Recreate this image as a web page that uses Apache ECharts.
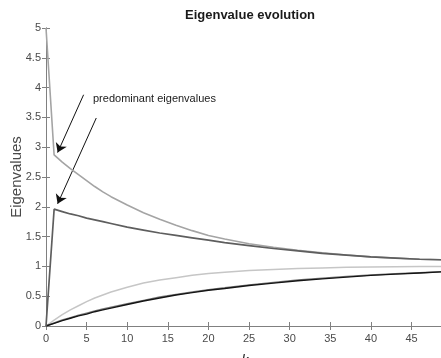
<!DOCTYPE html>
<html>
<head>
<meta charset="utf-8">
<script src="https://cdn.jsdelivr.net/npm/echarts@6/dist/echarts.min.js"></script>
<style>
  html, body { margin: 0; padding: 0; background: #fff; }
  #chart { width: 441px; height: 358px; }
</style>
</head>
<body>
<div id="chart"></div>
<script>
// iteration index k (sampled where the curves were read)
const kValues = [0, 1, 2, 3, 4, 5, 6, 7, 8, 10, 12, 14, 16, 18, 20, 22, 25, 28, 31, 34, 37, 40, 43, 46, 49];

// the two predominant eigenvalues
const eigUpper = [5, 2.87, 2.75, 2.64, 2.54, 2.44, 2.34, 2.25, 2.17, 2.03, 1.90, 1.79, 1.69, 1.60, 1.52, 1.46, 1.38, 1.32, 1.27, 1.23, 1.19, 1.16, 1.14, 1.12, 1.11];
const eigSecond = [0, 1.96, 1.92, 1.88, 1.85, 1.81, 1.78, 1.75, 1.72, 1.66, 1.61, 1.56, 1.52, 1.48, 1.44, 1.40, 1.35, 1.30, 1.26, 1.22, 1.19, 1.16, 1.14, 1.12, 1.11];

// the growing eigenvalues
const eigLight = [0, 0.10, 0.19, 0.27, 0.34, 0.41, 0.47, 0.52, 0.57, 0.65, 0.72, 0.77, 0.81, 0.85, 0.88, 0.90, 0.93, 0.95, 0.965, 0.975, 0.985, 0.99, 0.995, 1.0, 1.0];
const eigGray = [0, 0.05, 0.10, 0.14, 0.18, 0.215, 0.25, 0.285, 0.315, 0.375, 0.43, 0.485, 0.53, 0.57, 0.61, 0.64, 0.69, 0.73, 0.77, 0.80, 0.83, 0.855, 0.875, 0.895, 0.91];
const eigBlack = [0, 0.045, 0.09, 0.13, 0.17, 0.20, 0.24, 0.27, 0.30, 0.36, 0.42, 0.47, 0.52, 0.56, 0.60, 0.63, 0.68, 0.72, 0.76, 0.79, 0.82, 0.85, 0.87, 0.89, 0.91];

const yTicks = ['0', '0.5', '1', '1.5', '2', '2.5', '3', '3.5', '4', '4.5', '5'];

// arrows pointing at the predominant eigenvalues: [from, to] in data units
const arrowLines = [
  [[4.63, 3.88], [1.43, 2.91]],
  [[6.19, 3.49], [1.43, 2.05]]
];

const pairs = (ys) => kValues.map((k, i) => [k, ys[i]]);

const chart = echarts.init(document.getElementById('chart'), null, { renderer: 'canvas' });

const axisGray = '#808080';
const labelColor = '#4a4a4a';
const font = 'Liberation Sans, Arial, sans-serif';

const lineSeries = (name, ys, color, width, z) => ({
  name: name,
  type: 'line',
  data: pairs(ys),
  showSymbol: false,
  symbol: 'none',
  z: z,
  lineStyle: { color: color, width: width },
  animation: false
});

const option = {
  backgroundColor: '#fff',
  animation: false,
  title: {
    text: 'Eigenvalue evolution',
    left: 245,
    top: 4,
    textAlign: 'center',
    textStyle: { fontFamily: font, fontSize: 13, fontWeight: 'bold', color: '#1a1a1a' }
  },
  grid: { left: 46, right: -3, top: 28, bottom: 32, containLabel: false, outerBoundsMode: 'none' },
  xAxis: [
    {
      type: 'value', min: 0, max: 49, interval: 5,
      name: 'k', nameLocation: 'middle', nameGap: 28, nameMoveOverlap: false,
      nameTextStyle: { fontFamily: font, fontSize: 14, fontStyle: 'italic', color: '#1a1a1a' },
      axisLine: { show: true, lineStyle: { color: axisGray, width: 1 } },
      axisTick: { show: true, inside: true, length: 4, lineStyle: { color: axisGray } },
      axisLabel: { fontFamily: font, fontSize: 11, color: labelColor, margin: 7, showMaxLabel: false },
      splitLine: { show: false }
    },
    {
      type: 'value', min: 0, max: 49, interval: 5, position: 'top',
      axisLine: { show: true, lineStyle: { color: axisGray, width: 1 } },
      axisTick: { show: true, inside: true, length: 4, lineStyle: { color: axisGray } },
      axisLabel: { show: false },
      splitLine: { show: false }
    }
  ],
  yAxis: [
    {
      type: 'value', min: 0, max: 5, interval: 0.5,
      name: 'Eigenvalues', nameLocation: 'middle', nameGap: 22, nameRotate: 90, nameMoveOverlap: false,
      nameTextStyle: { fontFamily: font, fontSize: 15, color: '#4a4a4a' },
      axisLine: { show: true, lineStyle: { color: axisGray, width: 1 } },
      axisTick: { show: true, inside: true, length: 4, lineStyle: { color: axisGray } },
      axisLabel: {
        fontFamily: font, fontSize: 11, color: labelColor, margin: 5,
        formatter: (v) => yTicks[Math.round(v * 2)]
      },
      splitLine: { show: false }
    },
    {
      type: 'value', min: 0, max: 5, interval: 0.5, position: 'right',
      axisLine: { show: true, lineStyle: { color: axisGray, width: 1 } },
      axisTick: { show: true, inside: true, length: 4, lineStyle: { color: axisGray } },
      axisLabel: { show: false },
      splitLine: { show: false }
    }
  ],
  series: [
    lineSeries('light', eigLight, '#c6c6c6', 1.5, 2),
    lineSeries('gray', eigGray, '#7a7a7a', 1.5, 3),
    lineSeries('black', eigBlack, '#151515', 1.4, 4),
    lineSeries('upper', eigUpper, '#a4a4a4', 1.6, 5),
    lineSeries('second', eigSecond, '#5e5e5e', 1.7, 6),
    {
      name: 'arrows',
      type: 'line',
      data: [],
      silent: true,
      markLine: {
        silent: true,
        animation: false,
        symbol: ['none', 'arrow'],
        symbolSize: 9,
        label: { show: false },
        emphasis: { disabled: true },
        lineStyle: { color: '#111', width: 1, type: 'solid' },
        data: arrowLines.map(([a, b]) => [{ coord: a }, { coord: b }])
      }
    }
  ],
  graphic: [
    {
      type: 'text',
      left: 93,
      top: 93,
      style: {
        text: 'predominant eigenvalues',
        fontFamily: font,
        fontSize: 11,
        fill: '#1a1a1a'
      }
    }
  ]
};

chart.setOption(option);
</script>
</body>
</html>
